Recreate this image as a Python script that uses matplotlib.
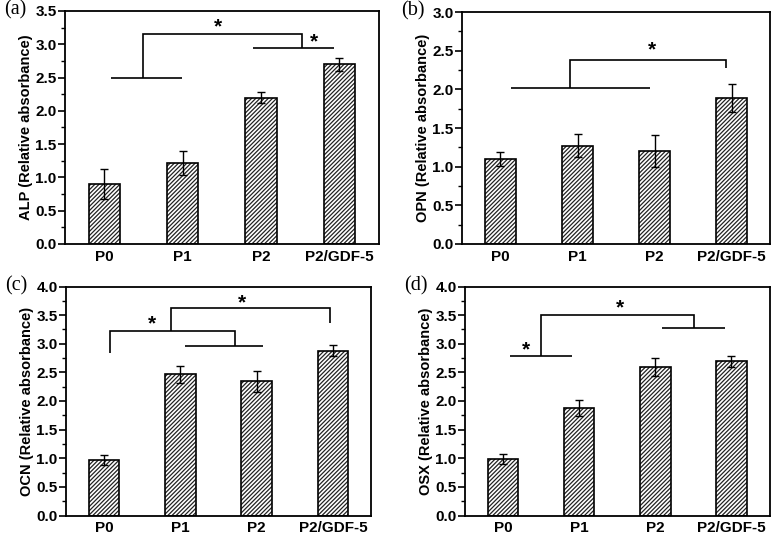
import matplotlib
matplotlib.use("Agg")
import matplotlib.pyplot as plt
from matplotlib.ticker import MultipleLocator

plt.rcParams['font.family'] = ['Liberation Sans', 'DejaVu Sans']
plt.rcParams['hatch.linewidth'] = 0.9

categories = ["P0", "P1", "P2", "P2/GDF-5"]

alp_mean = [0.90, 1.22, 2.20, 2.70]
alp_err = [0.22, 0.18, 0.085, 0.10]
opn_mean = [1.10, 1.27, 1.20, 1.89]
opn_err = [0.09, 0.15, 0.21, 0.185]
ocn_mean = [0.975, 2.47, 2.345, 2.88]
ocn_err = [0.085, 0.15, 0.18, 0.10]
osx_mean = [0.99, 1.88, 2.60, 2.69]
osx_err = [0.09, 0.135, 0.155, 0.10]

ylabels = ["ALP (Relative absorbance)", "OPN (Relative absorbance)",
           "OCN (Relative absorbance)", "OSX (Relative absorbance)"]
panel_tags = ["(a)", "(b)", "(c)", "(d)"]
ymax = [3.5, 3.0, 4.0, 4.0]

# significance brackets (data coordinates)
brackets_a = [[(1.09, 2.50), (1.99, 2.50)],
              [(1.50, 2.50), (1.50, 3.15), (3.53, 3.15), (3.53, 2.94)],
              [(2.90, 2.94), (3.93, 2.94)]]
stars_a = [(2.45, 3.26), (3.68, 3.04)]
brackets_b = [[(1.135, 2.02), (2.94, 2.02)],
              [(1.90, 2.02), (1.90, 2.38), (3.93, 2.38), (3.93, 2.28)]]
stars_b = [(2.97, 2.51)]
brackets_c = [[(1.08, 2.84), (1.08, 3.22), (2.72, 3.22), (2.72, 2.955)],
              [(2.056, 2.955), (3.09, 2.955)],
              [(1.88, 3.22), (1.88, 3.62), (3.96, 3.62), (3.96, 3.36)]]
stars_c = [(1.63, 3.35), (2.81, 3.72)]
brackets_d = [[(1.085, 2.79), (1.90, 2.79)],
              [(1.50, 2.79), (1.50, 3.51), (3.51, 3.51), (3.51, 3.28)],
              [(3.085, 3.28), (3.91, 3.28)]]
stars_d = [(1.30, 2.90), (2.54, 3.63)]

means = [alp_mean, opn_mean, ocn_mean, osx_mean]
errs = [alp_err, opn_err, ocn_err, osx_err]
brackets = [brackets_a, brackets_b, brackets_c, brackets_d]
stars = [stars_a, stars_b, stars_c, stars_d]

W, H = 782, 535
rects_px = [(65, 11, 378.5, 244), (462, 12, 770, 244),
            (66, 286.5, 371, 515.5), (465, 286.5, 769.5, 515.5)]

fig = plt.figure(figsize=(W / 100, H / 100), dpi=100)
x = [1, 2, 3, 4]
for i in range(4):
    l, t, r, b = rects_px[i]
    ax = fig.add_axes([l / W, 1 - b / H, (r - l) / W, (b - t) / H])
    ax.bar(x, means[i], width=0.4, color='white', edgecolor='#222222',
           hatch='////////', linewidth=0, zorder=2)
    ax.bar(x, means[i], width=0.4, color='none', edgecolor='black',
           linewidth=1.2, zorder=3)
    ax.errorbar(x, means[i], yerr=errs[i], fmt='none', ecolor='black',
                elinewidth=1.0, capsize=3, capthick=1.0, zorder=4)
    for path in brackets[i]:
        xs = [p[0] for p in path]
        ys = [p[1] for p in path]
        ax.plot(xs, ys, color='black', lw=1.2, solid_capstyle='butt',
                solid_joinstyle='miter', zorder=5)
    for sx, sy in stars[i]:
        ax.text(sx, sy, '*', ha='center', va='center', fontsize=15,
                fontweight='bold', zorder=6)
    ax.set_xlim(0.5, 4.5)
    ax.set_ylim(0, ymax[i])
    ax.set_xticks(x)
    ax.set_xticklabels(categories, fontsize=11, fontweight='bold')
    ax.tick_params(axis='x', length=0, pad=4)
    ax.yaxis.set_major_locator(MultipleLocator(0.5))
    ax.yaxis.set_minor_locator(MultipleLocator(0.25))
    ax.yaxis.set_major_formatter(matplotlib.ticker.FormatStrFormatter('%.1f'))
    ax.tick_params(axis='y', which='major', direction='out', length=5,
                   width=1.2, labelsize=11, pad=1)
    ax.tick_params(axis='y', which='minor', direction='out', length=3,
                   width=1.0)
    for lab in ax.get_yticklabels():
        lab.set_fontweight('bold')
    for sp in ax.spines.values():
        sp.set_linewidth(1.3)
    ax.set_ylabel(ylabels[i], fontsize=10.5, fontweight='bold', labelpad=2)
    fig.text((l - 61) / W, 1 - (t - 1) / H, panel_tags[i],
             family=['Liberation Serif', 'DejaVu Serif'], fontsize=14.5,
             ha='left', va='center')

fig.savefig("out.png", dpi=100)
